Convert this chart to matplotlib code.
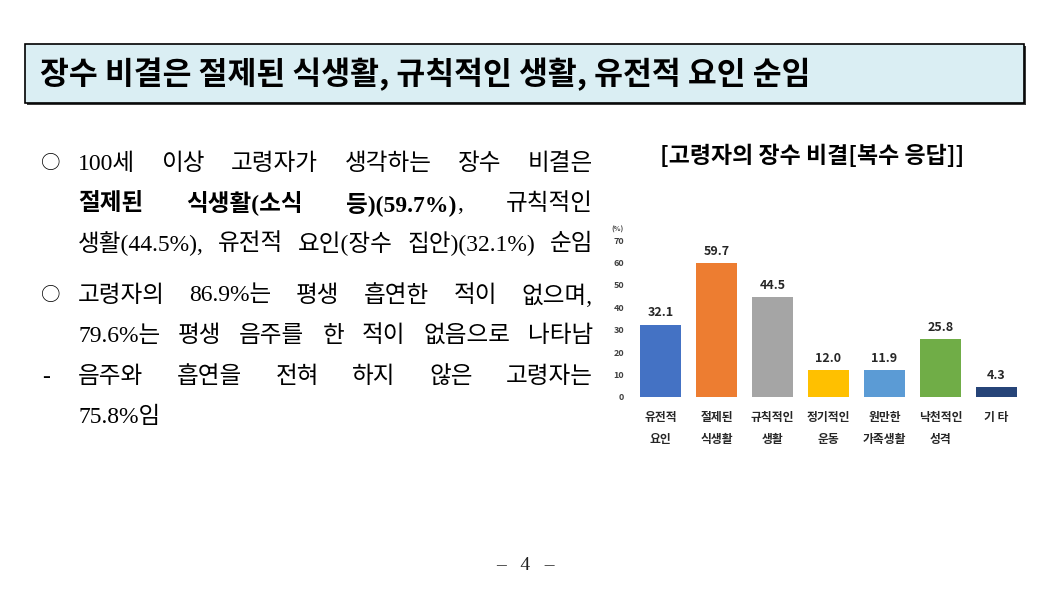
import matplotlib
matplotlib.use("Agg")
import matplotlib.pyplot as plt
from matplotlib.patches import Rectangle

W, H = 1052, 596

# ---------------- data ----------------
categories = ["유전적\n요인", "절제된\n식생활", "규칙적인\n생활", "정기적인\n운동",
              "원만한\n가족생활", "낙천적인\n성격", "기 타"]
values = [32.1, 59.7, 44.5, 12.0, 11.9, 25.8, 4.3]
bar_colors = ["#4472C4", "#ED7D31", "#A5A5A5", "#FFC000", "#5B9BD5", "#70AD47", "#264478"]
yticks = [0, 10, 20, 30, 40, 50, 60, 70]

header_title = "장수 비결은 절제된 식생활, 규칙적인 생활, 유전적 요인 순임"
chart_title = "[고령자의 장수 비결[복수 응답]]"
page_number = "–   4   –"

N, B = "normal", "bold"
body_lines = [
    ("○", [[("100세", N)], [("이상", N)], [("고령자가", N)], [("생각하는", N)], [("장수", N)], [("비결은", N)]], True),
    ("", [[("절제된", B)], [("식생활(소식", B)], [("등)(59.7%)", B), (",", N)], [("규칙적인", N)]], True),
    ("", [[("생활(44.5%),", N)], [("유전적", N)], [("요인(장수", N)], [("집안)(32.1%)", N)], [("순임", N)]], True),
    ("○", [[("고령자의", N)], [("86.9%는", N)], [("평생", N)], [("흡연한", N)], [("적이", N)], [("없으며,", N)]], True),
    ("", [[("79.6%는", N)], [("평생", N)], [("음주를", N)], [("한", N)], [("적이", N)], [("없음으로", N)], [("나타남", N)]], True),
    ("-", [[("음주와", N)], [("흡연을", N)], [("전혀", N)], [("하지", N)], [("않은", N)], [("고령자는", N)]], True),
    ("", [[("75.8%임", N)]], False),
]
line_y = [164, 204, 244, 296, 336, 377, 417]

# ---------------- figure ----------------
plt.rcParams['font.family'] = ['Noto Sans CJK KR', 'DejaVu Sans']
fig = plt.figure(figsize=(W / 100, H / 100), dpi=100)
fig.patch.set_facecolor("white")

def fx(px):
    return px / W

def fy(py):
    return 1 - py / H

# header box
fig.patches.append(Rectangle((fx(27), fy(105)), fx(1026) - fx(27), fy(46) - fy(105),
                             transform=fig.transFigure, facecolor="#3a3a3a", edgecolor="none", zorder=0))
fig.patches.append(Rectangle((fx(25), fy(103)), fx(1024) - fx(25), fy(44) - fy(103),
                             transform=fig.transFigure, facecolor="#DAEEF3", edgecolor="black",
                             linewidth=1.2, zorder=1))
fig.text(fx(40), fy(74), header_title, fontsize=22.6, fontweight="bold", color="black",
         ha="left", va="center", family=['Noto Sans CJK KR', 'DejaVu Sans'])

# body text (justified)
FAM = ['Liberation Serif', 'Noto Sans CJK KR', 'DejaVu Sans']
BS = 17
renderer = fig.canvas.get_renderer()

def run_width(t, wt):
    tt = fig.text(0, 0, t, fontsize=BS, fontweight=wt, family=FAM)
    w = tt.get_window_extent(renderer).width
    tt.remove()
    return w

x0, x1 = 78, 593
for (bullet, words, justify), y in zip(body_lines, line_y):
    if bullet == "○":
        fig.text(fx(51), fy(y), bullet, fontsize=14, family=['Noto Sans CJK KR', 'DejaVu Sans'],
                 ha="center", va="center", color="black")
    elif bullet:
        fig.text(fx(46), fy(y), bullet, fontsize=BS, family=FAM,
                 ha="center", va="center", color="black")
    widths = [sum(run_width(t, wt) for t, wt in w) for w in words]
    if justify and len(words) > 1:
        gap = (x1 - x0 - sum(widths)) / (len(words) - 1)
    else:
        gap = run_width(" ", N)
    x = x0
    for w, ww in zip(words, widths):
        xr = x
        for t, wt in w:
            fig.text(fx(xr), fy(y), t, fontsize=BS, fontweight=wt, family=FAM,
                     ha="left", va="center", color="black")
            xr += run_width(t, wt)
        x += ww + gap

# chart title
fig.text(fx(812), fy(156), chart_title, fontsize=16.5, fontweight="bold", color="black",
         ha="center", va="center")

# chart axes
ax = fig.add_axes([fx(632.5), fy(397), 392 / W, 157 / H])
xs = list(range(len(values)))
bars = ax.bar(xs, values, width=0.72, color=bar_colors, zorder=2)
ax.set_xlim(-0.5, len(values) - 0.5)
ax.set_ylim(0, 70)
ax.set_yticks(yticks)
ax.set_yticklabels([str(t) for t in yticks], fontsize=6.5, fontweight="bold", color="#404040")
ax.set_xticks(xs)
ax.set_xticklabels(categories, fontsize=8.5, fontweight="bold", color="#262626", linespacing=1.9)
ax.tick_params(axis="both", length=0)
ax.tick_params(axis="y", pad=6)
ax.tick_params(axis="x", pad=10)
for s in ax.spines.values():
    s.set_visible(False)
ax.set_facecolor("none")
for xi, v in zip(xs, values):
    ax.annotate(f"{v:.1f}", xy=(xi, v), xytext=(0, 4), textcoords="offset points",
                ha="center", va="bottom", fontsize=9, fontweight="bold", color="#262626")
fig.text(fx(617), fy(229), "(%)", fontsize=5, fontweight="bold", color="#404040",
         ha="center", va="center")

# page number
fig.text(fx(525), fy(566), page_number, fontsize=14, color="#222222", ha="center", va="center",
         family=['Liberation Serif', 'DejaVu Sans'])

fig.savefig("out.png", dpi=100, facecolor="white")
